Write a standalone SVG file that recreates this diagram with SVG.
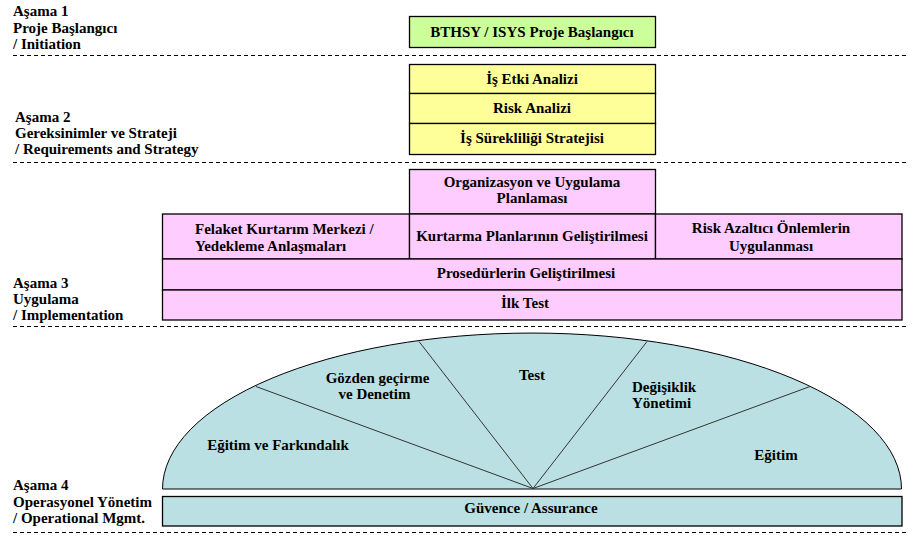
<svg xmlns="http://www.w3.org/2000/svg" width="913" height="548" viewBox="0 0 913 548">
<style>
text{font-family:'Liberation Serif',Tinos,'Times New Roman','DejaVu Serif',serif;font-weight:700;font-size:15px;fill:#000}
.c{text-anchor:middle}
.box{stroke:#000;stroke-width:1.3}
.g{fill:#CCFF99}
.y{fill:#FFFF99}
.p{fill:#FFCCFF}
.t{fill:#BBE0E3}
.dash{stroke:#000;stroke-width:1;stroke-dasharray:4 3;fill:none}
.div{stroke:#333;stroke-width:1;fill:none}
</style>
<rect width="913" height="548" fill="#fff"/>

<g id="separators">
<line class="dash" x1="13" y1="55.5" x2="907" y2="55.5"/>
<line class="dash" x1="13" y1="162.5" x2="907" y2="162.5"/>
<line class="dash" x1="13" y1="326.5" x2="907" y2="326.5"/>
<line class="dash" x1="13" y1="532.5" x2="907" y2="532.5"/>
</g>

<g id="stage1-label">
<text x="13" y="16">Aşama 1</text>
<text x="13" y="32.5">Proje Başlangıcı</text>
<text x="13" y="49">/ Initiation</text>
</g>
<g id="stage2-label">
<text x="15" y="122">Aşama 2</text>
<text x="15" y="138">Gereksinimler ve Strateji</text>
<text x="15" y="154">/ Requirements and Strategy</text>
</g>
<g id="stage3-label">
<text x="13" y="288">Aşama 3</text>
<text x="13" y="304">Uygulama</text>
<text x="13" y="320">/ Implementation</text>
</g>
<g id="stage4-label">
<text x="13" y="490">Aşama 4</text>
<text x="13" y="506.5">Operasyonel Yönetim</text>
<text x="13" y="523">/ Operational Mgmt.</text>
</g>

<g id="bthsy-isys">
<rect class="box g" x="409.5" y="16.5" width="246" height="31"/>
<text class="c" x="532" y="37">BTHSY / ISYS Proje Başlangıcı</text>
</g>
<g id="is-etki-analizi">
<rect class="box y" x="409.5" y="64.5" width="246" height="29"/>
<text class="c" x="532" y="84">İş Etki Analizi</text>
</g>
<g id="risk-analizi">
<rect class="box y" x="409.5" y="93.5" width="246" height="30"/>
<text class="c" x="532" y="113">Risk Analizi</text>
</g>
<g id="is-surekliligi">
<rect class="box y" x="409.5" y="123.5" width="246" height="31"/>
<text class="c" x="532" y="143">İş Sürekliliği Stratejisi</text>
</g>

<g id="organizasyon">
<rect class="box p" x="409.5" y="169.5" width="246" height="44.5"/>
<text class="c" x="532" y="187">Organizasyon ve Uygulama</text>
<text class="c" x="532" y="203">Planlaması</text>
</g>
<g id="felaket-kurtarim">
<rect class="box p" x="162.5" y="214" width="247" height="45"/>
<text x="195" y="234">Felaket Kurtarım Merkezi /</text>
<text x="195" y="251">Yedekleme Anlaşmaları</text>
</g>
<g id="kurtarma-planlari">
<rect class="box p" x="409.5" y="214" width="246" height="45"/>
<text class="c" x="532" y="241">Kurtarma Planlarının Geliştirilmesi</text>
</g>
<g id="risk-azaltici">
<rect class="box p" x="655.5" y="214" width="246.5" height="45"/>
<text class="c" x="771" y="233">Risk Azaltıcı Önlemlerin</text>
<text class="c" x="771" y="251">Uygulanması</text>
</g>
<g id="prosedurler">
<rect class="box p" x="162.5" y="259" width="739.5" height="31"/>
<text class="c" x="526" y="278">Prosedürlerin Geliştirilmesi</text>
</g>
<g id="ilk-test">
<rect class="box p" x="162.5" y="290" width="739.5" height="30"/>
<text class="c" x="525" y="308">İlk Test</text>
</g>

<g id="operational-fan">
<path d="M162.5,489 A369.5,156 0 0 1 901.5,489 Z" fill="#BBE0E3" stroke="#000" stroke-width="1"/>
</g>
<g id="connectors">
<line class="div" x1="533" y1="488.5" x2="256" y2="386.5"/>
<line class="div" x1="533" y1="488.5" x2="419" y2="341.5"/>
<line class="div" x1="533" y1="488.5" x2="647" y2="341.5"/>
<line class="div" x1="533" y1="488.5" x2="810" y2="386.5"/>
</g>
<g id="egitim-farkindalik"><text class="c" x="278" y="450">Eğitim ve Farkındalık</text></g>
<g id="gozden-gecirme">
<text class="c" x="377.5" y="383">Gözden geçirme</text>
<text class="c" x="374.5" y="399">ve Denetim</text>
</g>
<g id="test"><text class="c" x="532" y="380">Test</text></g>
<g id="degisiklik">
<text x="632" y="392">Değişiklik</text>
<text x="632" y="408">Yönetimi</text>
</g>
<g id="egitim"><text class="c" x="776" y="460">Eğitim</text></g>

<g id="guvence">
<rect class="box t" x="162.5" y="496.5" width="739.5" height="29.5"/>
<text class="c" x="531" y="513">Güvence / Assurance</text>
</g>
</svg>
